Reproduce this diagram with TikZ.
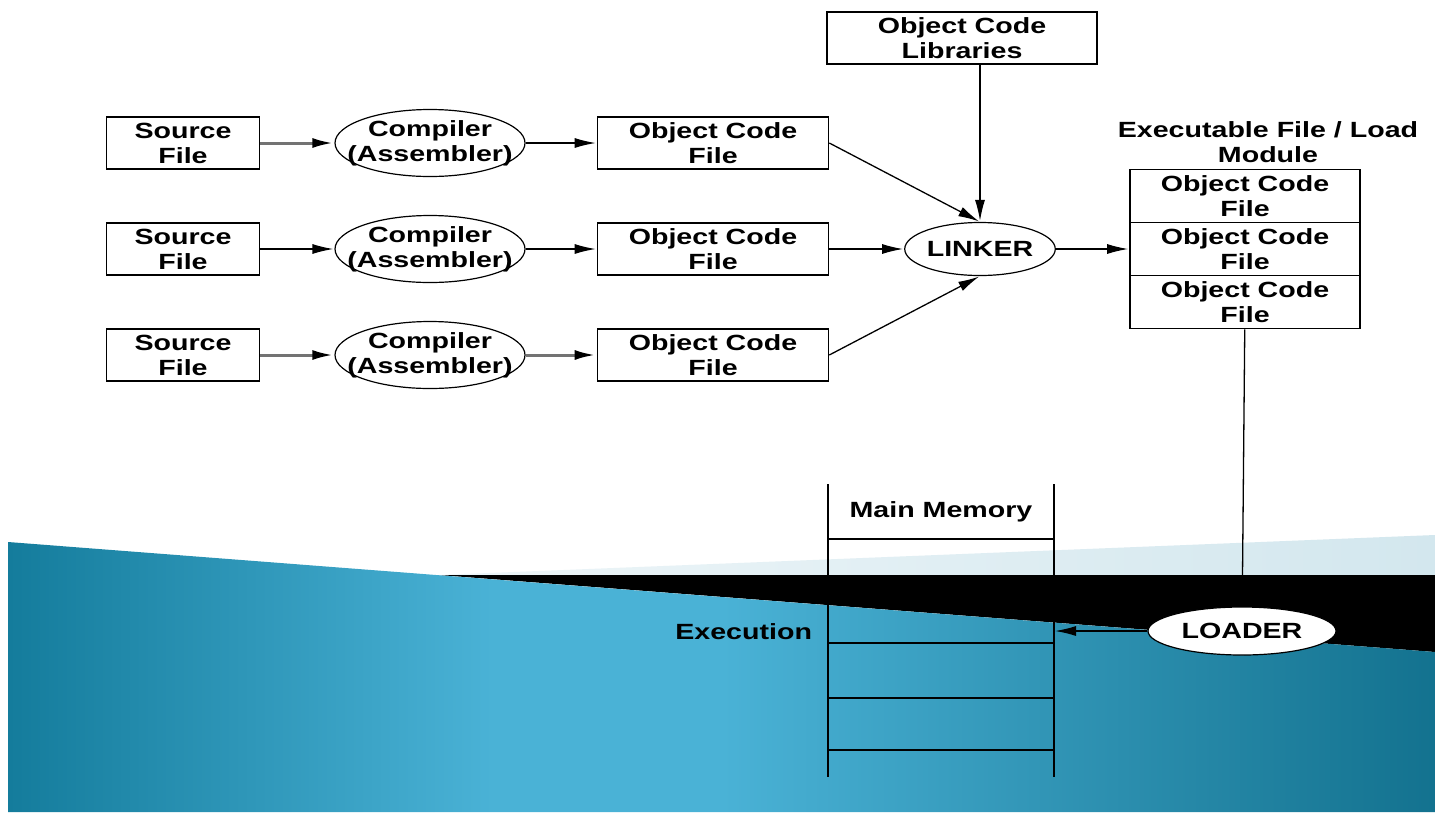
\documentclass[tikz,border=0pt]{standalone}
\usepackage{fontspec}
\newfontfamily\diagfont[FakeStretch=1.3]{Liberation Sans}
\usepackage{tikz}
\usetikzlibrary{shapes.geometric, arrows.meta}
\definecolor{paleblue}{HTML}{D3E7EE}
\definecolor{seaL}{HTML}{147C9C}
\definecolor{seaM}{HTML}{4AB2D6}
\definecolor{seaR}{HTML}{13728F}
\pgfdeclarehorizontalshading{sea}{100bp}{color(0bp)=(seaL); color(25bp)=(seaL); color(42bp)=(seaM); color(50bp)=(seaM); color(75bp)=(seaR); color(100bp)=(seaR)}
\newcommand{\figfont}{\diagfont\bfseries\fontsize{22}{25}\selectfont}

\begin{document}
\begin{tikzpicture}[x=1pt,y=-1pt,
	file node/.style={rectangle,draw,line width=1.6pt,minimum height=52pt,inner sep=0pt,align=center,font=\figfont},
	tool node/.style={ellipse,draw,line width=1.2pt,inner sep=0pt,align=center,font=\figfont},
	heavy/.style={line width=3pt,draw=black!55},
	>={Latex[length=21pt,width=10pt,color=black]},shorten >=1pt,node distance=247pt,
	line width=1.3pt]
	% slide background
	\useasboundingbox (0,0) rectangle (1435,812);
	\fill[white] (0,0) rectangle (1435,812);
	\shade[left color=white!60!paleblue,right color=paleblue,draw=none] (439,575) -- (1435,535) -- (1435,575) -- cycle;
	\fill[black] (439,575) -- (1435,575) -- (1435,652) -- cycle;
	\shade[shading=sea,draw=none] (8,542) -- (1435,652) -- (1435,812) -- (8,812) -- cycle;

	\node[file node,minimum width=153pt] (s1) at (183,143) {Source\\File};
	\node[tool node,inner xsep=-30pt,minimum width=190pt,minimum height=67pt] (c1) [right of=s1] {Compiler\\(Assembler)};
	\node[file node,minimum width=231pt] (o1) [right of=c1,node distance=283pt] {Object Code\\File};

	\node[file node,minimum width=153pt] (s2) at (183,249) {Source\\File};
	\node[tool node,inner xsep=-30pt,minimum width=190pt,minimum height=67pt] (c2) [right of=s2] {Compiler\\(Assembler)};
	\node[file node,minimum width=231pt] (o2) [right of=c2,node distance=283pt] {Object Code\\File};

	\node[file node,minimum width=153pt] (s3) at (183,355) {Source\\File};
	\node[tool node,inner xsep=-30pt,minimum width=190pt,minimum height=67pt] (c3) [right of=s3] {Compiler\\(Assembler)};
	\node[file node,minimum width=231pt] (o3) [right of=c3,node distance=283pt] {Object Code\\File};

	\node[tool node,minimum width=150pt,minimum height=53pt] (link) at (980,249) {LINKER};
	\node[file node,minimum width=270pt] (lib) at (962,38) {Object Code\\Libraries};

	\node[file node,minimum width=230pt,minimum height=53pt] (e1) at (1245,196) {Object Code\\File};
	\node[file node,minimum width=230pt,minimum height=53pt] (e2) [below of=e1,node distance=53pt] {Object Code\\File};
	\node[file node,minimum width=230pt,minimum height=53pt] (e3) [below of=e2,node distance=53pt] {Object Code\\File};
	\node[font=\figfont,align=center] (exlabel) at (1268,142) {Executable File / Load\\Module};

	\path[->] (s1) edge[heavy] (c1) (c1) edge (o1)
	(s2) edge (c2) (c2) edge (o2)
	(s3) edge[heavy] (c3) (c3) edge[heavy] (o3);
	\path[->] (o1.east) edge (link.north)
	(o2) edge (link)
	(o3.east) edge (link.south)
	(link.north |- lib.south) edge (link.north)
	(link) edge (e2);

	% main memory
	\coordinate (mtl) at (828,484);
	\coordinate (mtr) at (1054,484);
	\coordinate (mbl) at (828,778);
	\coordinate (mbr) at (1054,778);
	\draw (mtl) -- (mbl);
	\draw (mtr) -- (mbr);
	\foreach \y in {539,643,698,750}
		\draw (828,\y) -- (1054,\y);
	\node[font=\figfont] (mem) at (941,512) {Main Memory};
	\node[font=\figfont,anchor=east] (exec) at (816,632) {Execution};

	\node[tool node,fill=white,minimum width=188pt,minimum height=48pt] (load) at (1242,631) {LOADER};
	\coordinate (mmR) at (1054,631);
	\draw[shorten >=0pt] (e3) -- (load);
	\draw[->] (load) -- (mmR);
\end{tikzpicture}
\end{document}
